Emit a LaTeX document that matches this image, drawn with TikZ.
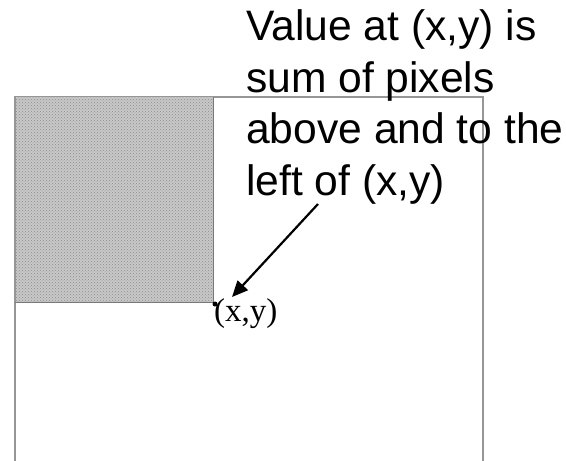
\documentclass[tikz,border=0pt]{standalone}
\usepackage{fontspec}
\setmainfont{Liberation Sans}
\newfontfamily\serifxy{Liberation Serif}
\usetikzlibrary{patterns,arrows.meta}
\definecolor{framegray}{RGB}{150,150,150}
\definecolor{edgegray}{RGB}{120,120,120}
\definecolor{fillgray}{RGB}{200,200,200}
\definecolor{dotgray}{RGB}{140,140,140}
\tikzset{
  frameline/.style={draw=framegray, line width=1.3pt},
  shade sq/.style={fill=fillgray},
  bigtext/.style={anchor=base west, inner sep=0pt, font=\fontsize{42.6}{50}\selectfont},
  pointer/.style={-{Triangle[length=16pt,width=14pt]}, line width=2.2pt, black}
}
\begin{document}
\begin{tikzpicture}[x=1pt,y=-1pt]
\useasboundingbox (0,0) rectangle (566,461);
% outer frame (open at the bottom)
\draw[frameline] (15,461) -- (15,97) -- (483,97) -- (483,461);
% shaded region
\fill[shade sq] (15,97) rectangle (213,302);
\fill[pattern=crosshatch dots, pattern color=dotgray] (15,97) rectangle (213,302);
\draw[draw=edgegray, line width=1pt] (15,302) -- (213,302) -- (213,97);
\draw[frameline] (15,302) -- (15,97);
% corner point and label
\fill[black] (215,304) circle (2.5pt);
\node[anchor=base west, inner sep=0pt, font=\serifxy\fontsize{33}{33}\selectfont] (xy) at (214,321) {(x,y)};
% text
\node[bigtext] (l1) at (246,40) {Value at (x,y) is};
\node[bigtext] (l2) at (246,92) {sum of pixels};
\node[bigtext] (l3) at (246,143) {above and to the};
\node[bigtext] (l4) at (246,195) {left of (x,y)};
\coordinate (as) at (318,204);
\coordinate (at) at (232,297);
\draw[pointer] (as) -- (at);
\end{tikzpicture}
\end{document}
